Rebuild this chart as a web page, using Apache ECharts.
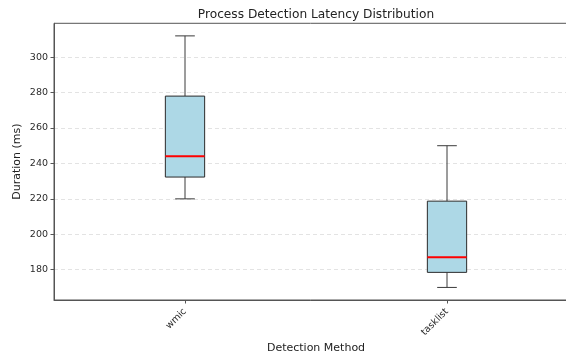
<!DOCTYPE html>
<html>
<head>
<meta charset="utf-8">
<script src="https://cdn.jsdelivr.net/npm/echarts@6/dist/echarts.min.js"></script>
<style>
html,body{margin:0;padding:0;background:#fff;}
#chart{width:566px;height:358px;}
</style>
</head>
<body>
<div id="chart"></div>
<script>
var categories = ['wmic', 'tasklist'];
var whiskerLow = [220, 170];
var q1Values = [232.3, 178.5];
var medianValues = [244, 187];
var q3Values = [278, 218.7];
var whiskerHigh = [312, 250];

var chart = echarts.init(document.getElementById('chart'), null, {renderer: 'canvas'});

var boxData = categories.map(function (c, i) {
  return [i, whiskerLow[i], q1Values[i], medianValues[i], q3Values[i], whiskerHigh[i]];
});

function renderBox(params, api) {
  var idx = api.value(0);
  var band = api.size([1, 0])[0];
  var boxW = band * 0.15;
  var capW = boxW / 2;
  var pLow = api.coord([idx, api.value(1)]);
  var pQ1 = api.coord([idx, api.value(2)]);
  var pMed = api.coord([idx, api.value(3)]);
  var pQ3 = api.coord([idx, api.value(4)]);
  var pHigh = api.coord([idx, api.value(5)]);
  var cx = pQ1[0];
  var lineStyle = {stroke: '#3a3a3a', lineWidth: 1, fill: null};
  return {
    type: 'group',
    children: [
      {type: 'line', shape: {x1: cx, y1: pQ3[1], x2: cx, y2: pHigh[1]}, style: lineStyle},
      {type: 'line', shape: {x1: cx, y1: pQ1[1], x2: cx, y2: pLow[1]}, style: lineStyle},
      {type: 'line', shape: {x1: cx - capW / 2, y1: pHigh[1], x2: cx + capW / 2, y2: pHigh[1]}, style: lineStyle},
      {type: 'line', shape: {x1: cx - capW / 2, y1: pLow[1], x2: cx + capW / 2, y2: pLow[1]}, style: lineStyle},
      {type: 'rect', shape: {x: cx - boxW / 2, y: pQ3[1], width: boxW, height: pQ1[1] - pQ3[1]},
        style: {fill: '#add8e6', stroke: '#2a2a2a', lineWidth: 1}},
      {type: 'line', shape: {x1: cx - boxW / 2, y1: pMed[1], x2: cx + boxW / 2, y2: pMed[1]},
        style: {stroke: '#ff0000', lineWidth: 2}}
    ]
  };
}

var option = {
  animation: false,
  backgroundColor: '#ffffff',
  title: {
    text: 'Process Detection Latency Distribution',
    left: 316,
    top: 8.5,
    textAlign: 'center',
    padding: 0,
    textStyle: {fontFamily: 'DejaVu Sans', fontSize: 12.2, fontWeight: 'normal', color: '#222'}
  },
  grid: {
    left: 54, top: 23.3, width: 524, height: 276.7,
    outerBoundsMode: 'none',
    show: true, borderColor: '#555', borderWidth: 1, backgroundColor: 'transparent',
    containLabel: false
  },
  xAxis: {
    type: 'category',
    data: categories,
    boundaryGap: true,
    name: 'Detection Method',
    nameLocation: 'middle',
    nameGap: 43,
    nameMoveOverlap: false,
    nameTextStyle: {fontFamily: 'DejaVu Sans', fontSize: 11, color: '#222'},
    axisLine: {show: true, lineStyle: {color: '#555', width: 1}},
    axisTick: {show: true, alignWithLabel: true, length: 3.5, lineStyle: {color: '#555'}},
    axisLabel: {rotate: 45, fontFamily: 'DejaVu Sans', fontSize: 9.5, color: '#2a2a2a', margin: 10, interval: 0},
    splitLine: {show: false}
  },
  yAxis: {
    type: 'value',
    min: 162.9,
    max: 319.1,
    splitNumber: 8,
    minInterval: 20,
    maxInterval: 20,
    name: 'Duration (ms)',
    nameLocation: 'middle',
    nameRotate: 90,
    nameGap: 31,
    nameMoveOverlap: false,
    nameTextStyle: {fontFamily: 'DejaVu Sans', fontSize: 11, color: '#222'},
    axisLine: {show: true, lineStyle: {color: '#555', width: 1}},
    axisTick: {show: true, length: 3.5, lineStyle: {color: '#555'}},
    axisLabel: {fontFamily: 'DejaVu Sans', fontSize: 9.5, color: '#2a2a2a', margin: 6, showMinLabel: false, showMaxLabel: false,
      formatter: function (v) { return (Math.abs(v - Math.round(v)) < 1e-6 && Math.round(v) % 20 === 0) ? String(Math.round(v)) : ''; }},
    splitLine: {show: true, showMinLine: false, showMaxLine: false, lineStyle: {color: '#e3e3e3', type: [4, 3], width: 1}}
  },
  series: [{
    type: 'custom',
    renderItem: renderBox,
    encode: {x: 0, y: [1, 2, 3, 4, 5]},
    data: boxData,
    clip: false
  }]
};
chart.setOption(option);
</script>
</body>
</html>
